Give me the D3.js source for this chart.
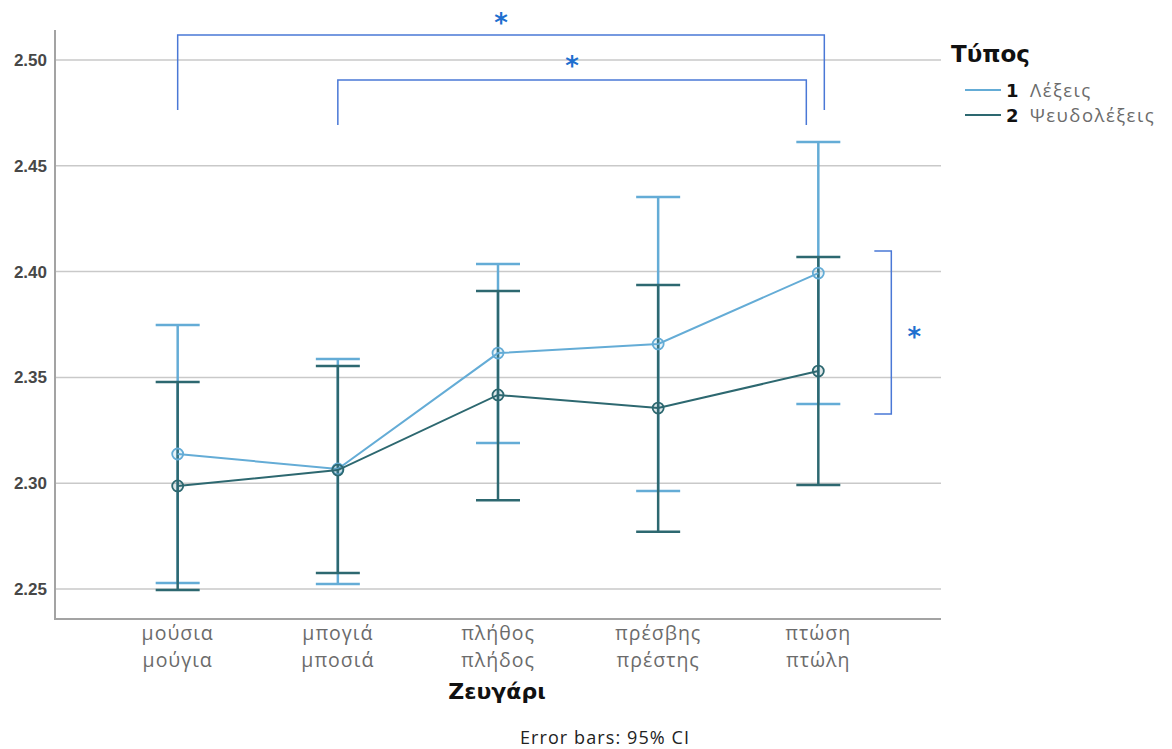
<!DOCTYPE html>
<html><head><meta charset="utf-8">
<script src="https://cdn.jsdelivr.net/npm/d3@7"></script>
<style>body{margin:0;background:#fff}svg{display:block}</style>
</head><body>
<svg id="c" width="1172" height="749"></svg>
<script>
const categories = [["μούσια","μούγια"],["μπογιά","μποσιά"],["πλήθος","πλήδος"],["πρέσβης","πρέστης"],["πτώση","πτώλη"]];
const seriesNames = ["Λέξεις","Ψευδολέξεις"];
const seriesCodes = ["1","2"];
const wordsMean  = [2.3138, 2.3067, 2.3615, 2.3658, 2.3993];
const wordsLow   = [2.2528, 2.2524, 2.3190, 2.2963, 2.3374];
const wordsHigh  = [2.3748, 2.3587, 2.4036, 2.4353, 2.4612];
const pseudoMean = [2.2987, 2.3062, 2.3417, 2.3355, 2.3530];
const pseudoLow  = [2.2495, 2.2576, 2.2920, 2.2770, 2.2991];
const pseudoHigh = [2.3478, 2.3554, 2.3908, 2.3937, 2.4069];
const yTicks = [2.25, 2.30, 2.35, 2.40, 2.45, 2.50];
// significance brackets between categories (data units)
const topBrackets = [
  {from:0, to:4, level:2.5118, end:2.4764, starLevel:2.5195, toShift:6},
  {from:1, to:4, level:2.4905, end:2.4693, starLevel:2.4990, toShift:-12}
];
const sideBracket = {at:4, top:2.4097, bottom:2.3327};

(function(){
const colors = ["#64acd6", "#2d6870"];
const svg = d3.select("#c");
const pL = 55, pR = 941, pT = 30, pB = 619;
const y = d3.scaleLinear().domain([2.25, 2.50]).range([589, 60]);
const x = d3.scalePoint().domain(d3.range(categories.length)).range([pL, pR]).padding(0.766);

// gridlines
svg.append("g").selectAll("line").data(yTicks).join("line")
  .attr("x1", pL).attr("x2", pR).attr("y1", d=>y(d)).attr("y2", d=>y(d))
  .attr("stroke", "#c9c9c9").attr("stroke-width", 1.5);

// axes
const yAxis = d3.axisLeft(y).tickValues(yTicks).tickFormat(d3.format(".2f")).tickSize(0).tickPadding(8);
const gy = svg.append("g").attr("transform", `translate(${pL},0)`).call(yAxis);
gy.select(".domain").remove();
gy.selectAll("text").attr("font-family","Liberation Sans").attr("font-weight","bold").attr("font-size",17).attr("fill","#474747");
svg.append("path").attr("d", `M${pL},${pT}V${pB}H${pR}`).attr("fill","none").attr("stroke","#a3a3a3").attr("stroke-width",2);

// category labels
const gx = svg.append("g");
categories.forEach((c,i)=>{
  c.forEach((t,j)=>{
    gx.append("text").attr("x", x(i)).attr("y", 640 + j*27).attr("text-anchor","middle")
      .attr("font-family","Open Sans").attr("font-size",19.5).attr("letter-spacing",1).attr("fill","#6b6b6b").text(t);
  });
});
svg.append("text").attr("x", 497).attr("y", 699).attr("text-anchor","middle")
  .attr("font-family","DejaVu Sans").attr("font-weight","bold").attr("font-size",22).attr("fill","#111").text("Ζευγάρι");
svg.append("text").attr("x", 605).attr("y", 744).attr("text-anchor","middle")
  .attr("font-family","Open Sans").attr("font-size",18).attr("letter-spacing",1.1).attr("fill","#222").text("Error bars: 95% CI");

// series
const series = [
  {mean:wordsMean, low:wordsLow, high:wordsHigh, color:colors[0]},
  {mean:pseudoMean, low:pseudoLow, high:pseudoHigh, color:colors[1]}
];
const capHalf = 22;
const idx = d3.range(categories.length);
series.forEach(s=>{
  const g = svg.append("g");
  g.selectAll("line.v").data(idx).join("line")
    .attr("x1", i=>x(i)).attr("x2", i=>x(i)).attr("y1", i=>y(s.low[i])).attr("y2", i=>y(s.high[i]))
    .attr("stroke", s.color).attr("stroke-width", 2.5);
  ["low","high"].forEach(k=>{
    g.append("g").selectAll("line").data(idx).join("line")
      .attr("x1", i=>x(i)-capHalf).attr("x2", i=>x(i)+capHalf).attr("y1", i=>y(s[k][i])).attr("y2", i=>y(s[k][i]))
      .attr("stroke", s.color).attr("stroke-width", 2.5);
  });
});
series.forEach(s=>{
  const g = svg.append("g");
  g.append("path").datum(idx)
    .attr("d", d3.line().x(i=>x(i)).y(i=>y(s.mean[i])))
    .attr("fill","none").attr("stroke", s.color).attr("stroke-width", 2);
  g.selectAll("circle").data(idx).join("circle")
    .attr("cx", i=>x(i)).attr("cy", i=>y(s.mean[i])).attr("r", 5.5)
    .attr("fill", s.color).attr("fill-opacity", 0.15).attr("stroke", s.color).attr("stroke-width", 1.8);
});

// significance annotations
const annColor = "#4a78d6", starColor = "#1f6fcf";
topBrackets.forEach(b=>{
  const x1 = x(b.from), x2 = x(b.to) + b.toShift;
  svg.append("path").attr("d", `M${x1},${y(b.end)}V${y(b.level)}H${x2}V${y(b.end)}`)
    .attr("fill","none").attr("stroke", annColor).attr("stroke-width",1.5);
  svg.append("text").attr("x",(x1+x2)/2).attr("y", y(b.starLevel)+13).attr("text-anchor","middle")
    .attr("font-family","DejaVu Sans").attr("font-weight","bold").attr("font-size",26).attr("fill",starColor).text("*");
});
{
  const bx = x(sideBracket.at) + 73;
  svg.append("path").attr("d", `M${bx-17},${y(sideBracket.top)}H${bx}V${y(sideBracket.bottom)}H${bx-17}`)
    .attr("fill","none").attr("stroke", annColor).attr("stroke-width",1.5);
  svg.append("text").attr("x", bx+23).attr("y", (y(sideBracket.top)+y(sideBracket.bottom))/2+13).attr("text-anchor","middle")
    .attr("font-family","DejaVu Sans").attr("font-weight","bold").attr("font-size",26).attr("fill",starColor).text("*");
}

// legend
const lg = svg.append("g");
lg.append("text").attr("x",951).attr("y",62).attr("font-family","DejaVu Sans").attr("font-weight","bold")
  .attr("font-size",23).attr("fill","#111").text("Τύπος");
seriesNames.forEach((n,i)=>{
  const ly = 90 + i*25;
  lg.append("line").attr("x1",965).attr("x2",1001).attr("y1",ly).attr("y2",ly).attr("stroke",colors[i]).attr("stroke-width",2);
  lg.append("text").attr("x",1006).attr("y",ly+7).attr("font-family","DejaVu Sans").attr("font-weight","bold")
    .attr("font-size",18).attr("fill","#111").text(seriesCodes[i]);
  lg.append("text").attr("x",1030).attr("y",ly+7).attr("font-family","Open Sans")
    .attr("font-size",18.5).attr("letter-spacing",1.5).attr("fill","#6b6b6b").text(n);
});
})();
</script>
</body></html>
